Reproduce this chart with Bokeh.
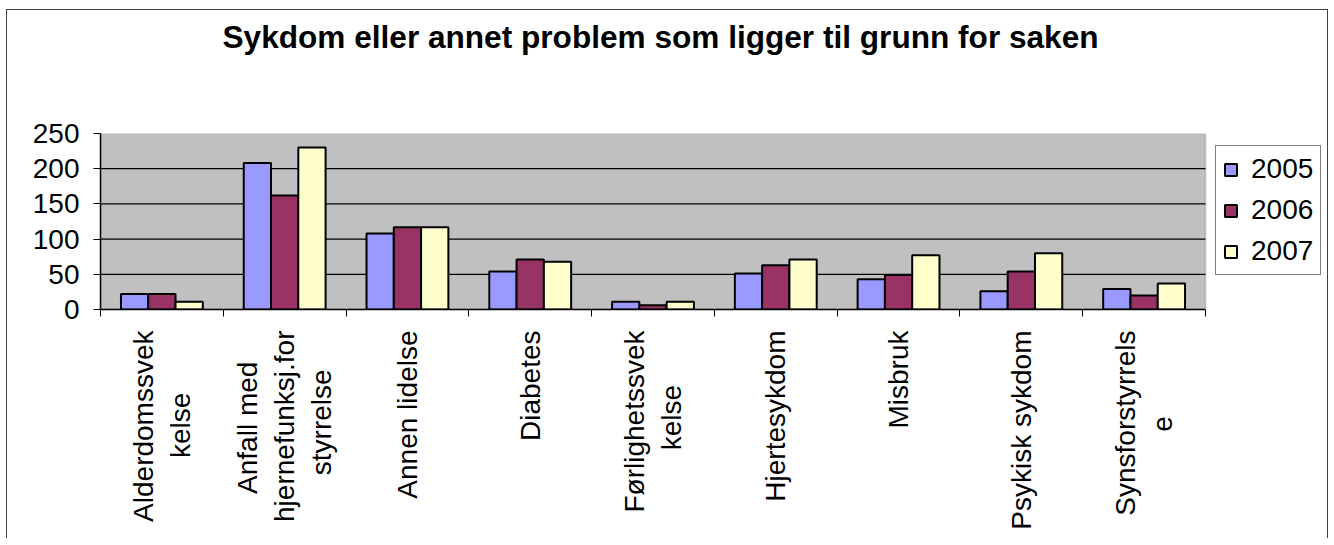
import math
from bokeh.plotting import figure
from bokeh.models import (ColumnDataSource, FixedTicker, Legend, LegendItem,
                          Range1d, Title, BoxAnnotation)
from bokeh.embed import file_html
from bokeh.resources import INLINE

# ---- data ----
NB = "\u00a0"  # non-breaking spaces only centre the shorter label lines
categories = ["Alderdomssvek\nkelse" + NB * 8,
              "Anfall med" + NB * 4 + "\nhjernefunksj.for\nstyrrelse" + NB * 5,
              "Annen lidelse", "Diabetes",
              "Førlighetssvek\nkelse" + NB * 7,
              "Hjertesykdom", "Misbruk", "Psykisk sykdom",
              "Synsforstyrrels\ne" + NB * 11]
years = ["2005", "2006", "2007"]
v2005 = [22, 208, 108, 54, 11, 51, 43, 26, 29]
v2006 = [22, 162, 117, 71, 6, 63, 49, 54, 20]
v2007 = [11, 230, 117, 68, 11, 71, 77, 80, 37]
y_ticks = [0, 50, 100, 150, 200, 250]

title_text = "Sykdom eller annet problem som ligger til grunn for saken"

colors = ["#9999FF", "#993366", "#FFFFCC"]
series = [v2005, v2006, v2007]

FONT = "Liberation Sans"
n = len(categories)
bar_w = 1 / 4.5
offsets = [-bar_w, 0.0, bar_w]
centers = [i + 0.5 for i in range(n)]
bounds = [float(i) for i in range(n + 1)]

# layout (pixels)
W, H = 1322, 529
ML, MR, MT, MB = 93, 4, 123, 230
PLOT_W = 1105                       # width of the grey plot area
frame_w = W - ML - MR
x_end = n * frame_w / PLOT_W        # extra room on the right holds the legend

p = figure(width=W, height=H, output_backend="svg", toolbar_location=None,
           x_range=Range1d(0, x_end), y_range=Range1d(0, y_ticks[-1]),
           min_border_left=ML, min_border_right=MR, min_border_top=MT,
           min_border_bottom=MB)
p.styles = {"margin-left": "6px", "margin-top": "9px",
            "border-left": "1px solid #404040", "border-top": "1px solid #404040",
            "border-right": "1px solid #404040"}

p.background_fill_color = "white"
p.border_fill_color = "white"
p.outline_line_color = None

# grey plot area
area = BoxAnnotation(left=0, right=n, bottom=0, top=y_ticks[-1],
                     fill_color="#C0C0C0", fill_alpha=1.0,
                     line_color="#808080", line_width=2, level="underlay")
p.add_layout(area)

# title (a blank spacer sits between title and frame)
spacer = Title(text=" ", text_font_size="1px", standoff=76)
p.add_layout(spacer, "above")
p.title.text = title_text
p.title.text_font = FONT
p.title.text_font_size = "31.6px"
p.title.text_font_style = "bold"
p.title.align = "left"
p.title.offset = 122
p.title.standoff = 0
p.title.text_color = "black"

# horizontal grid lines, limited to the plot area
grid_y = y_ticks[1:-1]
p.segment(x0=[0] * len(grid_y), x1=[n] * len(grid_y), y0=grid_y, y1=grid_y,
          line_color="black", line_width=1.2)

renderers = []
for vals, col, off in zip(series, colors, offsets):
    src = ColumnDataSource(dict(x=[c + off for c in centers], top=vals))
    r = p.vbar(x="x", top="top", width=bar_w, bottom=0, source=src,
               fill_color=col, line_color="black", line_width=2)
    renderers.append(r)

p.xgrid.grid_line_color = None
p.ygrid.grid_line_color = None

# y axis
p.yaxis.ticker = FixedTicker(ticks=y_ticks)
p.yaxis.major_label_text_font = FONT
p.yaxis.major_label_text_font_size = "28px"
p.yaxis.major_label_text_color = "black"
p.yaxis.axis_line_color = "black"
p.yaxis.axis_line_width = 1.5
p.yaxis.major_tick_out = 7
p.yaxis.major_tick_in = 0
p.yaxis.major_tick_line_color = "black"
p.yaxis.minor_tick_line_color = None
p.yaxis.major_label_standoff = 14

# x axis: labels at centres, tick marks at category boundaries
p.xaxis.ticker = FixedTicker(ticks=centers, minor_ticks=bounds)
p.xaxis.bounds = (0, n)
p.xaxis.major_label_overrides = {c: lab for c, lab in zip(centers, categories)}
p.xaxis.major_label_orientation = math.pi / 2
p.xaxis.major_label_text_font = FONT
p.xaxis.major_label_text_font_size = "28px"
p.xaxis.major_label_text_color = "black"
p.xaxis.major_tick_out = 0
p.xaxis.major_tick_in = 0
p.xaxis.minor_tick_out = 7
p.xaxis.minor_tick_in = 0
p.xaxis.minor_tick_line_color = "black"
p.xaxis.axis_line_color = "black"
p.xaxis.axis_line_width = 1.5
p.xaxis.major_label_standoff = 14

# legend
legend = Legend(items=[LegendItem(label=y, renderers=[r]) for y, r in zip(years, renderers)],
                location=(1115, 34), orientation="vertical",
                label_text_font=FONT, label_text_font_size="28px",
                label_text_color="black",
                glyph_width=15, glyph_height=15, label_height=28,
                label_standoff=13, spacing=9, padding=7, margin=0,
                border_line_color="black", border_line_width=1.2,
                background_fill_color="white", background_fill_alpha=1.0)
p.add_layout(legend)

open("out.html", "w").write(file_html(p, INLINE))
